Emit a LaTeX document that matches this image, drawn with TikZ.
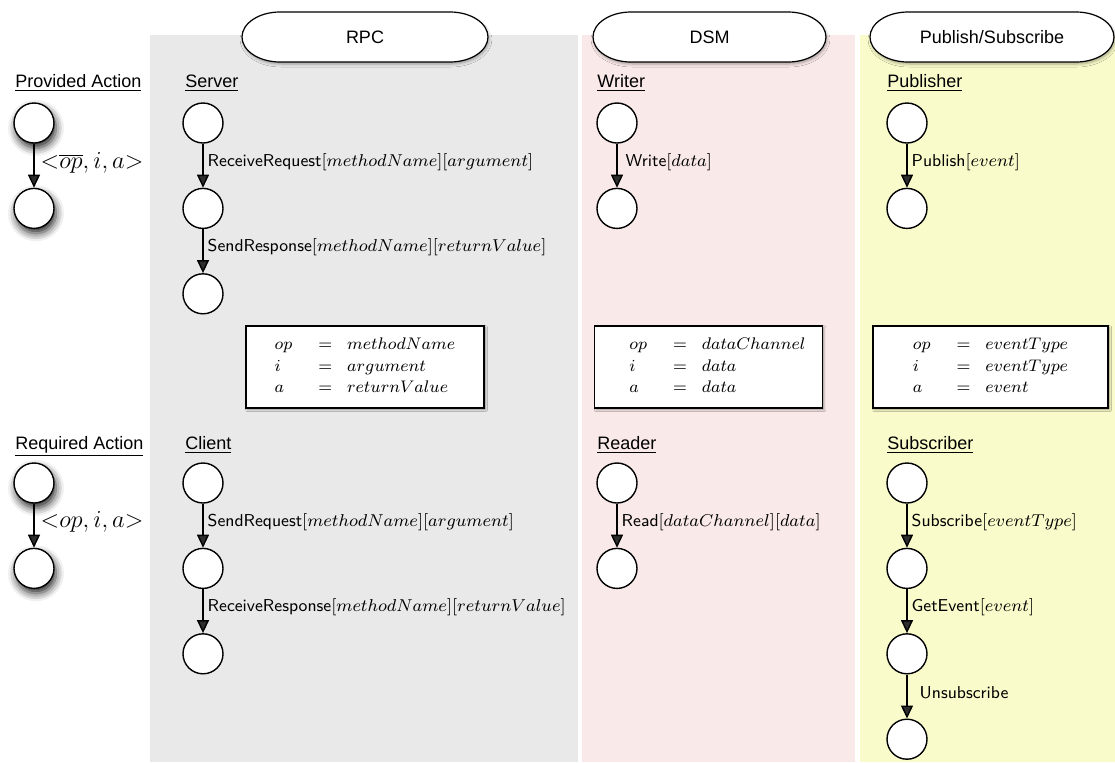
\RequirePackage{fix-cm}
\documentclass[tikz,border=0pt]{standalone}
\usepackage{fontspec}
\newfontfamily\helv{Liberation Sans}
\usepackage{tikz}
\usetikzlibrary{arrows.meta,positioning,shadows.blur}
\definecolor{rpcFill}{HTML}{E9E9E9}
\definecolor{dsmFill}{HTML}{F9E9E8}
\definecolor{psFill}{HTML}{FAFBCA}

% pill header: name, position, half width, text
\newcommand\pillat[4]{%
  \draw[pillline,shift={#2}] (-#3+19pt,12.5pt) -- (#3-19pt,12.5pt)
    arc[start angle=90,end angle=-90,x radius=19pt,y radius=12.5pt]
    -- (-#3+19pt,-12.5pt)
    arc[start angle=270,end angle=90,x radius=19pt,y radius=12.5pt] -- cycle;
  \node[pilltext] (#1) at #2 {#4};}

\begin{document}
\begin{tikzpicture}[x=0.5pt,y=-0.5pt,
  node distance=22pt,
  st/.style={circle,draw,fill=white,line width=0.7pt,minimum size=20pt,inner sep=0pt},
  shst/.style={st,blur shadow={shadow xshift=1pt,shadow yshift=-2.5pt,
    shadow blur radius=4pt,shadow opacity=85}},
  ar/.style={-{Triangle[length=6.5pt,width=6pt]},line width=0.7pt},
  lbl/.style={midway,right,inner sep=2pt,yshift=2pt,
    font=\sffamily\fontsize{8.6}{10}\selectfont},
  tpl/.style={lbl,inner sep=3pt,font=\fontsize{12.2}{14}\selectfont},
  hd/.style={anchor=base west,inner sep=0pt,font=\helv\fontsize{9}{11}\selectfont},
  pillline/.style={draw,fill=white,line width=0.6pt,
    blur shadow={shadow xshift=0.5pt,shadow yshift=-1pt,shadow blur radius=1.5pt,shadow opacity=35}},
  pilltext/.style={inner sep=0pt,font=\helv\fontsize{9}{11}\selectfont},
  map/.style={draw,fill=white,line width=0.6pt,minimum height=41pt,
    font=\fontsize{8.4}{10.75}\selectfont,
    blur shadow={shadow xshift=0.8pt,shadow yshift=-0.8pt,shadow blur radius=1pt,shadow opacity=40}}
]
\useasboundingbox (0,0) rectangle (1115,762);

% columns
\fill[rpcFill] (150,35) rectangle (578,762);
\fill[dsmFill] (582,35) rectangle (855,762);
\fill[psFill] (860,35) rectangle (1115,762);

\pillat{rpc}{(365,37)}{61.5pt}{RPC}
\pillat{dsm}{(709.5,37)}{58.25pt}{DSM}
\pillat{pubsub}{(992,37)}{61pt}{Publish/Subscribe}

% provided side
\node[hd] (provided) at (15,87) {\underline{Provided Action}};
\node[hd] (server) at (185,87) {\underline{Server}};
\node[hd] (writer) at (597,87) {\underline{Writer}};
\node[hd] (publisher) at (887,87) {\underline{Publisher}};

\node[shst] (p1) at (34,123) {};
\node[shst,below=of p1] (p2) {};
\draw[ar] (p1) -- (p2) node[tpl,yshift=-0.5pt] {${<}\overline{op}, i, a{>}$};

\node[st] (s1) at (203,123) {};
\node[st,below=of s1] (s2) {};
\node[st,below=of s2] (s3) {};
\draw[ar] (s1) -- (s2) node[lbl] {ReceiveRequest$[methodName][argument]$};
\draw[ar] (s2) -- (s3) node[lbl] {SendResponse$[methodName][returnValue]$};

\node[st] (w1) at (617,123) {};
\node[st,below=of w1] (w2) {};
\draw[ar] (w1) -- (w2) node[lbl,xshift=2pt] {Write$[data]$};

\node[st] (pb1) at (907,123) {};
\node[st,below=of pb1] (pb2) {};
\draw[ar] (pb1) -- (pb2) node[lbl] {Publish$[event]$};

% mappings
\node[map,minimum width=119pt] (rpcmap) at (365,367)
  {$\begin{array}{l@{\hspace{13pt}}c@{\hspace{7.5pt}}l} op & = & methodName\\ i & = & argument\\ a & = & returnValue \end{array}$};
\node[map,minimum width=108.5pt] (dsmmap) at (708.5,367)
  {\hspace*{9pt}$\begin{array}{l@{\hspace{13pt}}c@{\hspace{7.5pt}}l} op & = & dataChannel\\ i & = & data\\ a & = & data \end{array}$};
\node[map,minimum width=117.5pt] (psmap) at (990.5,367)
  {$\begin{array}{l@{\hspace{13pt}}c@{\hspace{7.5pt}}l} op & = & eventType\\ i & = & eventType\\ a & = & event \end{array}$};

% required side
\node[hd] (required) at (15,449) {\underline{Required Action}};
\node[hd] (client) at (185,449) {\underline{Client}};
\node[hd] (reader) at (597,449) {\underline{Reader}};
\node[hd] (subscriber) at (887,449) {\underline{Subscriber}};

\node[shst] (r1) at (34,483) {};
\node[shst,below=of r1] (r2) {};
\draw[ar] (r1) -- (r2) node[tpl] {${<}op, i, a{>}$};

\node[st] (c1) at (203,483) {};
\node[st,below=of c1] (c2) {};
\node[st,below=of c2] (c3) {};
\draw[ar] (c1) -- (c2) node[lbl] {SendRequest$[methodName][argument]$};
\draw[ar] (c2) -- (c3) node[lbl] {ReceiveResponse$[methodName][returnValue]$};

\node[st] (rd1) at (617,483) {};
\node[st,below=of rd1] (rd2) {};
\draw[ar] (rd1) -- (rd2) node[lbl] {Read$[dataChannel][data]$};

\node[st] (sb1) at (907,483) {};
\node[st,below=of sb1] (sb2) {};
\node[st,below=of sb2] (sb3) {};
\node[st,below=of sb3] (sb4) {};
\draw[ar] (sb1) -- (sb2) node[lbl] {Subscribe$[eventType]$};
\draw[ar] (sb2) -- (sb3) node[lbl] {GetEvent$[event]$};
\draw[ar] (sb3) -- (sb4) node[lbl,xshift=4pt] {Unsubscribe};
\end{tikzpicture}
\end{document}
